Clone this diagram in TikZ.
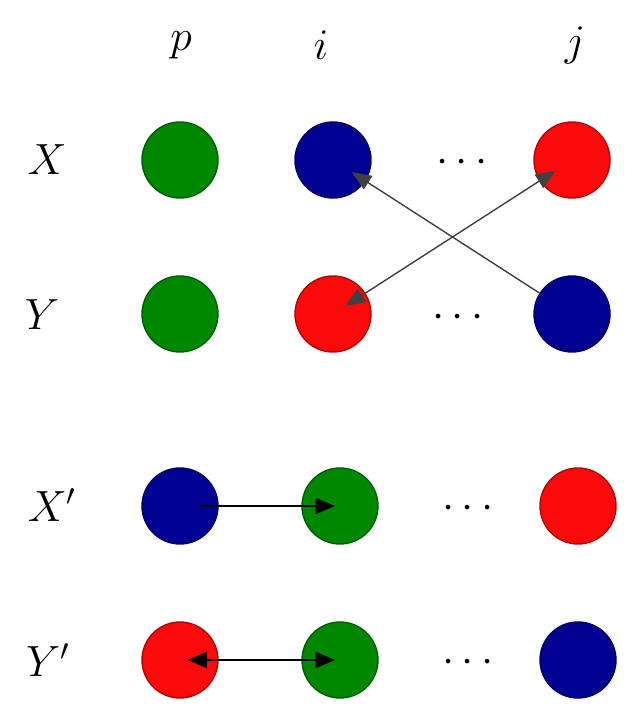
\documentclass[tikz,border=0pt]{standalone}
\definecolor{DotGreen}{RGB}{0,135,0}
\definecolor{DotBlue} {RGB}{0,0,145}
\definecolor{DotRed}  {RGB}{250,10,10}
\usetikzlibrary{arrows.meta,calc}
\tikzset{
  dot/.style={circle,inner sep=0pt,minimum size=1.52cm,fill=#1,draw=#1!70!black,line width=0.8pt},
  lbl/.style={font=\fontsize{24}{28}\selectfont},
  swap/.style={draw=black!75,line width=0.8pt},
  move/.style={draw=black,line width=1.2pt},
  tip/.style={-{Triangle[length=11pt,width=9pt]}},
  tips/.style={{Triangle[length=11pt,width=9pt]}-{Triangle[length=11pt,width=9pt]}}
}
\begin{document}
\begin{tikzpicture}[x=0.02cm,y=-0.02cm]
  \useasboundingbox (0,0) rectangle (634,716);
  %% column and row labels
  \node[lbl] (cp) at (181,45){$p$};
  \node[lbl] (ci) at (321,45){$i$};
  \node[lbl] (cj) at (575,45){$j$};
  \node[lbl] (rx)  at (47,160){$X$};
  \node[lbl] (ry)  at (42,315){$Y$};
  \node[lbl] (rxx) at (52,505){$X'$};
  \node[lbl] (ryy) at (48,660){$Y'$};
  %% parents
  \node[dot=DotGreen] (xp) at (180,160){};
  \node[dot=DotBlue]  (xi) at (333,160){};
  \node[dot=DotRed]   (xj) at (572,160){};
  \node[dot=DotGreen] (yp) at (180,314){};
  \node[dot=DotRed]   (yi) at (333,314){};
  \node[dot=DotBlue]  (yj) at (572,314){};
  \node[lbl] (xdots) at (462,163){$\cdots$};
  \node[lbl] (ydots) at (458,318){$\cdots$};
  %% children
  \node[dot=DotBlue]  (xxp) at (180,506){};
  \node[dot=DotGreen] (xxi) at (340,506){};
  \node[dot=DotRed]   (xxj) at (578,506){};
  \node[dot=DotRed]   (yyp) at (180,660){};
  \node[dot=DotGreen] (yyi) at (340,660){};
  \node[dot=DotBlue]  (yyj) at (578,660){};
  \node[lbl] (xxdots) at (468,509){$\cdots$};
  \node[lbl] (yydots) at (468,663){$\cdots$};
  %% exchange of positions i and j
  \draw[swap,tip,shorten >=0.45cm] (yj) -- (xi.center);
  \draw[swap,tips,shorten >=0.4cm,shorten <=0.3cm] (yi.center) -- (xj.center);
  %% moves to position i
  \draw[move,tip,shorten <=0.4cm,shorten >=0.1cm] (xxp.center) -- (xxi.center);
  \draw[move,tips,shorten <=0.15cm,shorten >=0.1cm] (yyp.center) -- (yyi.center);
\end{tikzpicture}
\end{document}
